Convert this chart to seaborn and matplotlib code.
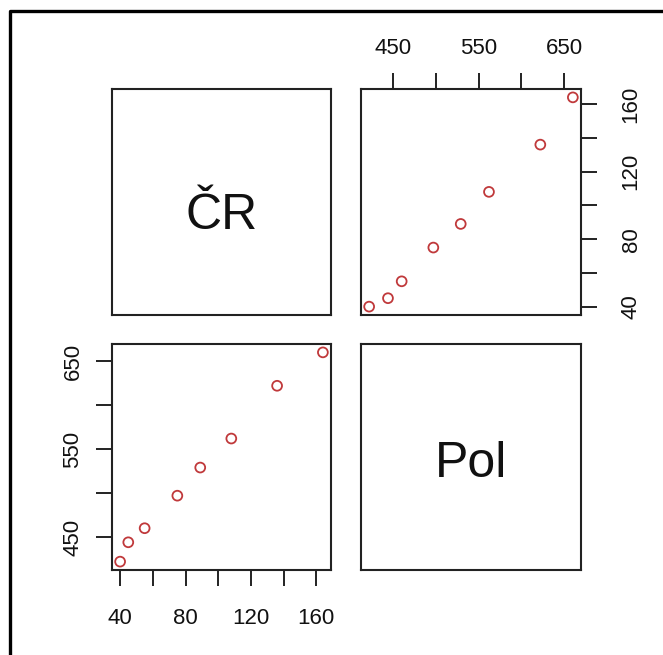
import matplotlib
matplotlib.use("Agg")
import matplotlib.pyplot as plt
from matplotlib.lines import Line2D
import pandas as pd
import seaborn as sns

# data
cr = [40, 45, 55, 75, 89, 108, 136, 164]
pol = [422, 444, 460, 497, 529, 562, 622, 660]
var_names = ["ČR", "Pol"]

cr_ticks = [40, 60, 80, 100, 120, 140, 160]
cr_labels = ["40", "", "80", "", "120", "", "160"]
pol_ticks = [450, 500, 550, 600, 650]
pol_labels = ["450", "", "550", "", "650"]

df = pd.DataFrame({"ČR": cr, "Pol": pol})

sns.set_style("white")
plt.rcParams["font.family"] = ["Liberation Sans", "DejaVu Sans"]

W, H = 663, 655
fig = plt.figure(figsize=(W / 100, H / 100), dpi=100)


def box(x0, y0, x1, y1):
    # pixel box (top-left origin) -> figure fraction
    return [x0 / W, (H - y1) / H, (x1 - x0) / W, (y1 - y0) / H]


ax_tl = fig.add_axes(box(112, 89, 331, 315))
ax_tr = fig.add_axes(box(361, 89, 581, 315))
ax_bl = fig.add_axes(box(112, 344, 331, 570))
ax_br = fig.add_axes(box(361, 344, 581, 570))


def pad_lim(vals):
    span = max(vals) - min(vals)
    return min(vals) - 0.04 * span, max(vals) + 0.04 * span


cr_lim = pad_lim(cr)
pol_lim = pad_lim(pol)

pt_color = "#c0393b"
for ax, xv, yv in [(ax_tr, "Pol", "ČR"), (ax_bl, "ČR", "Pol")]:
    sns.scatterplot(data=df, x=xv, y=yv, ax=ax, marker="o", s=50,
                    facecolor="none", edgecolor=pt_color, linewidth=1.3)
    ax.set_xlabel("")
    ax.set_ylabel("")

for ax in [ax_tl, ax_tr, ax_bl, ax_br]:
    for sp in ax.spines.values():
        sp.set_visible(True)
        sp.set_color("#222222")
        sp.set_linewidth(1.5)
    ax.tick_params(length=11.5, width=1.4, color="#222222",
                   labelsize=16, labelcolor="#111111")

# diagonal panels
for ax, name, ybase in [(ax_tl, var_names[0], 0.38), (ax_br, var_names[1], 0.41)]:
    ax.set_xticks([])
    ax.set_yticks([])
    ax.text(0.5, ybase, name, transform=ax.transAxes, ha="center",
            va="baseline", fontsize=36, color="#111111")

# bottom-left: x = ČR, y = Pol
ax_bl.set_xlim(cr_lim)
ax_bl.set_ylim(pol_lim)
ax_bl.set_xticks(cr_ticks, cr_labels)
ax_bl.set_yticks(pol_ticks, pol_labels)
ax_bl.tick_params(axis="x", bottom=True, pad=16)
ax_bl.tick_params(axis="y", left=True, pad=9)
plt.setp(ax_bl.get_yticklabels(), rotation=90, va="center")

# top-right: x = Pol, y = ČR, axes on top and right
ax_tr.set_xlim(pol_lim)
ax_tr.set_ylim(cr_lim)
ax_tr.set_xticks(pol_ticks, pol_labels)
ax_tr.set_yticks(cr_ticks, cr_labels)
ax_tr.tick_params(axis="x", bottom=False, labelbottom=False,
                  top=True, labeltop=True, pad=10)
ax_tr.tick_params(axis="y", left=False, labelleft=False,
                  right=True, labelright=True, pad=17)
plt.setp(ax_tr.get_yticklabels(), rotation=90, va="center")

# outer frame (only left and top edges visible)
fig.add_artist(Line2D([10 / W, 10 / W, 1.0], [0.0, 1 - 11 / H, 1 - 11 / H],
                      transform=fig.transFigure, color="black", linewidth=2.4))

fig.savefig("out.png", dpi=100)
